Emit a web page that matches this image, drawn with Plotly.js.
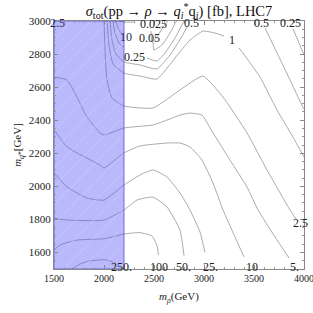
<!DOCTYPE html>
<html>
<head>
<meta charset="utf-8">
<script src="https://cdn.plot.ly/plotly-3.0.1.min.js"></script>
<style>html,body{margin:0;padding:0;background:#fff;}#chart{width:313px;height:313px;}</style>
</head>
<body>
<div id="chart"></div>
<script>
// ---- data (GeV) ----
const xTicks = [1500, 2000, 2500, 3000, 3500, 4000];
const yTicks = [1600, 1800, 2000, 2200, 2400, 2600, 2800, 3000];

// excluded region (shaded)
const bandX = [1500, 2200];
const bandY = [1500, 3000];

// contour levels (fb) and their traced paths; some levels have several pieces
const c0025aX = [2150, 2200, 2310];
const c0025aY = [3000, 2994, 2994];
const c0025bX = [2470, 2480, 2530, 2590, 2640];
const c0025bY = [2939, 2873, 2903, 2964, 3000];

const c005aX = [2120, 2140, 2170, 2200];
const c005aY = [3000, 2958, 2927, 2915];
const c005bX = [2490, 2500, 2580, 2660, 2720, 2730];
const c005bY = [2873, 2825, 2855, 2927, 2994, 3000];

const c025aX = [2090, 2110, 2150, 2200];
const c025aY = [3000, 2927, 2867, 2837];
const c025bX = [2430, 2530, 2610, 2710, 2800];
const c025bY = [2776, 2758, 2806, 2897, 3000];
const c025cX = [3890, 3980, 4000];
const c025cY = [2952, 2825, 2794];

const c05aX = [2060, 2080, 2120, 2200, 2360, 2530, 2660, 2770, 2830];
const c05aY = [3000, 2885, 2800, 2752, 2734, 2710, 2794, 2897, 2964];
const c05bX = [3610, 3760, 3960, 4000];
const c05bY = [2958, 2770, 2516, 2467];

const c1aX = [2030, 2050, 2090, 2200, 2360, 2530, 2710, 2860, 2990, 3110, 3200];
const c1aY = [3000, 2855, 2740, 2685, 2667, 2649, 2776, 2885, 2939, 2927, 2909];
const c1bX = [3350, 3440, 3560, 3730, 3890, 4000];
const c1bY = [2837, 2764, 2661, 2462, 2298, 2177];

const c2p5X = [2000, 2010, 2030, 2080, 2200, 2490, 2760, 2990, 3190, 3430, 3630, 3860, 3920];
const c2p5Y = [3000, 2825, 2643, 2534, 2486, 2474, 2583, 2667, 2540, 2323, 2099, 1857, 1802];

const c5X = [1500, 1630, 1730, 1830, 1960, 2000, 2200, 2490, 2630, 2760, 2860, 2980, 3090, 3260, 3430, 3540, 3710, 3850];
const c5Y = [2661, 2643, 2540, 2419, 2323, 2310, 2353, 2371, 2401, 2431, 2443, 2431, 2323, 2159, 1996, 1857, 1694, 1567];

const c10X = [1500, 1630, 1730, 1960, 2000, 2200, 2360, 2630, 2760, 2860, 2980, 3090, 3190, 3310, 3400];
const c10Y = [2341, 2238, 2202, 2129, 2111, 2202, 2244, 2262, 2262, 2238, 2159, 2020, 1857, 1694, 1573];

const c25X = [1500, 1630, 1830, 2000, 2200, 2360, 2490, 2630, 2760, 2860, 2960, 3010];
const c25Y = [2081, 1996, 1929, 1917, 2008, 2069, 2099, 2056, 1960, 1857, 1724, 1600];

const c50X = [1500, 1630, 2000, 2200, 2330, 2490, 2630, 2760, 2800];
const c50Y = [1808, 1796, 1796, 1857, 1917, 1935, 1875, 1736, 1580];

const c100X = [1500, 1560, 1730, 2000, 2200, 2360, 2480, 2530, 2545];
const c100Y = [1615, 1645, 1675, 1683, 1712, 1720, 1700, 1640, 1585];

const c250X = [1680, 1760, 1850, 2000, 2080, 2120];
const c250Y = [1500, 1530, 1548, 1556, 1545, 1530];

// contour labels
const labelText = ["2.5", "0.025", "10", "0.05", "0.25", "0.5", "1", "0.5", "0.25", "2.5", "250.", "100", "50.", "25.", "10", "5."];
const labelX    = [1535, 2490, 2215, 2450, 2300, 2870, 3280, 3570, 3860, 3960, 2170, 2550, 2790, 3060, 3480, 3900];
const labelY    = [2990, 2980, 2905, 2898, 2785, 2990, 2885, 2990, 2990, 1778, 1512, 1512, 1512, 1512, 1512, 1512];
const labelInBand = [true, false, true, false, false, false, false, false, false, false, false, false, false, false, false, false];

// ---- build ----
const pieces = [
  [c0025aX, c0025aY], [c0025bX, c0025bY],
  [c005aX, c005aY], [c005bX, c005bY],
  [c025aX, c025aY], [c025bX, c025bY], [c025cX, c025cY],
  [c05aX, c05aY], [c05bX, c05bY],
  [c1aX, c1aY], [c1bX, c1bY],
  [c2p5X, c2p5Y], [c5X, c5Y], [c10X, c10Y], [c25X, c25Y],
  [c50X, c50Y], [c100X, c100Y], [c250X, c250Y]
];

const traces = pieces.map(p => ({
  type: 'scatter', mode: 'lines', x: p[0], y: p[1],
  line: {color: 'rgb(160,160,160)', width: 0.9, shape: 'spline', smoothing: 0.45},
  hoverinfo: 'skip'
}));

traces.push({
  type: 'scatter', mode: 'lines',
  x: [bandX[0], bandX[1], bandX[1], bandX[0], bandX[0]],
  y: [bandY[0], bandY[0], bandY[1], bandY[1], bandY[0]],
  fill: 'toself',
  fillcolor: 'rgba(80,80,245,0.40)',
  fillpattern: {shape: '/', size: 13, solidity: 0.06, fgcolor: 'rgba(205,205,255,0.9)', bgcolor: 'rgba(80,80,245,0.40)'},
  line: {color: 'rgba(80,80,220,0.8)', width: 1},
  hoverinfo: 'skip'
});

const serif = '"Liberation Serif", "Times New Roman", serif';

const annotations = labelText.map((t, i) => ({
  x: labelX[i], y: labelY[i], xref: 'x', yref: 'y', text: t, showarrow: false,
  xanchor: 'center', yanchor: 'middle',
  font: {family: serif, size: 12, color: labelInBand[i] ? '#26265a' : '#222'}
}));

const layout = {
  width: 313, height: 313,
  margin: {l: 54, r: 9, t: 21, b: 44},
  paper_bgcolor: '#fff', plot_bgcolor: '#fff',
  showlegend: false,
  font: {family: serif, size: 11, color: '#222'},
  title: {
    text: '<i>σ</i><sub>tot</sub>(pp → <i>ρ</i> → <i>q<sub>i</sub></i><sup>*</sup>q<sub><i>i</i></sub>) [fb], LHC7',
    font: {family: serif, size: 14.5, color: '#111'},
    x: 0.5, xref: 'paper', xanchor: 'center',
    y: 0.966, yref: 'container', yanchor: 'middle'
  },
  xaxis: {
    range: [1500, 4000], tickvals: xTicks, ticktext: xTicks.map(String),
    ticks: 'inside', ticklen: 4, tickwidth: 1, tickcolor: '#888',
    minor: {dtick: 100, tick0: 1500, ticks: 'inside', ticklen: 2, tickcolor: '#999'},
    showline: true, linecolor: '#888', linewidth: 1, mirror: 'ticks',
    showgrid: false, zeroline: false,
    ticklabeloverflow: 'allow',
    tickfont: {family: serif, size: 10, color: '#222'},
    title: {text: '<i>m</i><sub><i>ρ</i></sub>(GeV)', font: {family: serif, size: 11, color: '#222'}, standoff: 9}
  },
  yaxis: {
    range: [1500, 3000], tickvals: yTicks, ticktext: yTicks.map(String),
    ticks: 'inside', ticklen: 4, tickwidth: 1, tickcolor: '#888',
    minor: {dtick: 50, tick0: 1500, ticks: 'inside', ticklen: 2, tickcolor: '#999'},
    showline: true, linecolor: '#888', linewidth: 1, mirror: 'ticks',
    showgrid: false, zeroline: false,
    ticklabeloverflow: 'allow',
    tickfont: {family: serif, size: 11, color: '#222'},
    title: {text: '<i>m</i><sub><i>q</i>*</sub>[GeV]', font: {family: serif, size: 11, color: '#222'}, standoff: 4}
  },
  annotations: annotations
};

Plotly.newPlot('chart', traces, layout, {staticPlot: true, displayModeBar: false});
</script>
</body>
</html>
